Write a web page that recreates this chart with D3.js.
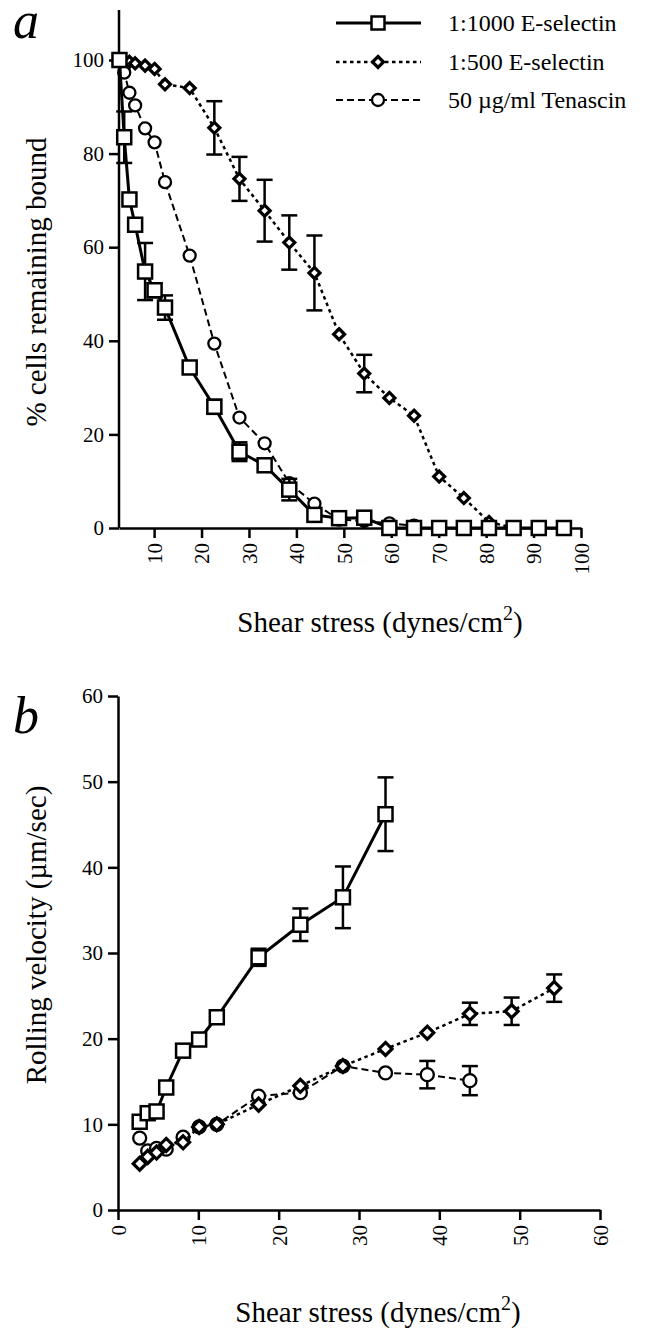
<!DOCTYPE html>
<html lang="en">
<head>
  <meta charset="utf-8">
  <title>Shear stress detachment and rolling velocity</title>
  <script src="https://d3js.org/d3.v7.min.js"></script>
  <style>
  body {
    margin: 0;
    background: #fff;
  }
  text {
    font-family: "Liberation Serif", "Times New Roman", serif;
    fill: #000;
  }
  .axis path, .axis line {
    stroke: #000;
    stroke-width: 2.5px;
  }
  .axis text {
    font-size: 21px;
  }
  .axis-title {
    font-size: 29px;
    text-anchor: middle;
  }
  .panel-letter {
    font-size: 52px;
    font-style: italic;
  }
  .legend text {
    font-size: 24px;
  }
  </style>
</head>
<body>
<script>

// Panel a: % cells remaining bound vs shear stress
var shearA = [2.7, 3.7, 4.8, 6.0, 8.1, 10.1, 12.3, 17.5, 22.7, 28.0, 33.3, 38.5, 43.8, 49.0, 54.3, 59.6, 64.8, 70.1, 75.3, 80.6, 85.8, 91.1, 96.4];
var boundSel1000 = [100, 83.5, 70.2, 64.8, 54.8, 50.8, 47.1, 34.3, 25.9, 16.3, 13.4, 8.2, 2.8, 2.1, 2.2, 0, 0, 0, 0, 0, 0, 0, 0];
var boundSel1000Err = [0, 5.5, 0, 0, 6.1, 1.5, 2.6, 0, 1.5, 2.0, 0, 2.3, 0, 0, 0, 0, 0, 0, 0, 0, 0, 0, 0];
var boundSel500 = [100, 99.8, 99.6, 99.3, 98.8, 98.1, 94.8, 94.0, 85.5, 74.6, 67.8, 61.0, 54.5, 41.4, 33.0, 27.8, 24.0, 11.0, 6.4, 1.3, 0];
var boundSel500Err = [0, 0, 0, 0, 0, 0, 0, 0, 5.7, 4.7, 6.6, 5.8, 8.0, 0, 4.0, 0, 0, 0, 0, 0, 0];
var boundTen = [100, 97.3, 93.0, 90.3, 85.4, 82.4, 73.9, 58.2, 39.4, 23.6, 18.1, 9.6, 5.2, 1.8, 1.5, 1.0, 0.5];

// Panel b: rolling velocity vs shear stress
var shearB = [2.7, 3.7, 4.8, 6.0, 8.1, 10.1, 12.3, 17.5, 22.7, 28.0, 33.3, 38.5, 43.8, 49.0, 54.3];
var velSel1000 = [10.3, 11.3, 11.5, 14.3, 18.6, 19.9, 22.5, 29.5, 33.3, 36.5, 46.2];
var velSel1000Err = [0, 0, 0, 0, 0, 0, 0, 1.0, 1.9, 3.6, 4.3];
var velSel500 = [5.4, 6.2, 6.7, 7.6, 7.9, 9.7, 10.0, 12.3, 14.5, 16.8, 18.8, 20.7, 22.9, 23.2, 25.9];
var velSel500Err = [0, 0, 0, 0, 0, 0, 0, 0, 0, 0, 0, 0, 1.3, 1.6, 1.6];
var velTen = [8.4, 6.9, 7.2, 7.1, 8.5, 9.7, 10.0, 13.3, 13.7, 16.8, 16.0, 15.8, 15.1];
var velTenErr = [0, 0, 0, 0, 0, 0, 0, 0, 0, 0, 0, 1.6, 1.7];

var seriesNames = ["1:1000 E-selectin", "1:500 E-selectin", "50 \u00b5g/ml Tenascin"];
var ticksA = [10, 20, 30, 40, 50, 60, 70, 80, 90, 100];
var ticksAY = [0, 20, 40, 60, 80, 100];
var ticksB = [0, 10, 20, 30, 40, 50, 60];

var width = 657;
var height = 1334;

// line styles per series: square solid, diamond dotted, circle dashed
var styles = [
  {shape: "square", dash: null, lw: 3},
  {shape: "diamond", dash: "3.5,3.5", lw: 2.5},
  {shape: "circle", dash: "7,4", lw: 2}
];

var svg = d3.select("body").append("svg")
  .attr("width", width)
  .attr("height", height);

svg.append("rect").attr("width", width).attr("height", height).attr("fill", "#fff");

function zip(xs, ys, es) {
  return ys.map(function(y, i) { return {x: xs[i], y: y, e: es ? es[i] : 0}; });
}

function drawMarker(g, shape, x, y, size) {
  if (shape == "square") {
    g.append("rect")
      .attr("x", x - size / 2).attr("y", y - size / 2)
      .attr("width", size).attr("height", size)
      .attr("fill", "#fff").attr("stroke", "#000").attr("stroke-width", 2.5);
  } else if (shape == "diamond") {
    var s = size * 0.5;
    g.append("path")
      .attr("d", "M" + x + "," + (y - s) + "L" + (x + s) + "," + y + "L" + x + "," + (y + s) + "L" + (x - s) + "," + y + "Z")
      .attr("fill", "#fff").attr("stroke", "#000").attr("stroke-width", 3.2);
  } else {
    g.append("circle")
      .attr("cx", x).attr("cy", y).attr("r", size / 2 - 0.5)
      .attr("fill", "#fff").attr("stroke", "#000").attr("stroke-width", 2.3);
  }
}

function drawSeries(g, pts, st, x, y, size) {
  var line = d3.line().x(function(d) { return x(d.x); }).y(function(d) { return y(d.y); });
  g.append("path")
    .datum(pts)
    .attr("d", line)
    .attr("fill", "none")
    .attr("stroke", "#000")
    .attr("stroke-width", st.lw)
    .attr("stroke-dasharray", st.dash);

  // error bars
  pts.forEach(function(d) {
    if (!d.e) return;
    var px = x(d.x);
    var cap = 8;
    g.append("line")
      .attr("x1", px).attr("x2", px)
      .attr("y1", y(d.y + d.e)).attr("y2", y(d.y - d.e))
      .attr("stroke", "#000").attr("stroke-width", 2.5);
    [d.y + d.e, d.y - d.e].forEach(function(v) {
      g.append("line")
        .attr("x1", px - cap).attr("x2", px + cap)
        .attr("y1", y(v)).attr("y2", y(v))
        .attr("stroke", "#000").attr("stroke-width", 2.5);
    });
  });

  pts.forEach(function(d) {
    drawMarker(g, st.shape, x(d.x), y(d.y), size);
  });
}

// ---------- Panel a ----------
var xA = d3.scaleLinear().domain([2.6, 100]).range([119, 581]);
var yA = d3.scaleLinear().domain([0, 100]).range([528, 60]);

var axA = svg.append("g").attr("class", "axis")
  .attr("transform", "translate(0," + yA(0) + ")")
  .call(d3.axisBottom(xA).tickValues(ticksA).tickSize(10).tickSizeOuter(0));
axA.selectAll("text")
  .attr("transform", "rotate(-90)")
  .attr("text-anchor", "end")
  .attr("x", -15)
  .attr("y", 0)
  .attr("dy", "0.35em");

var ayA = svg.append("g").attr("class", "axis")
  .attr("transform", "translate(" + xA(2.6) + ",0)")
  .call(d3.axisLeft(yA).tickValues(ticksAY).tickSize(10).tickSizeOuter(0).tickPadding(5));
ayA.select(".domain").remove();
svg.append("line")
  .attr("x1", xA(2.6)).attr("x2", xA(2.6))
  .attr("y1", 10).attr("y2", yA(0))
  .attr("stroke", "#000").attr("stroke-width", 2.5);

var plotA = svg.append("g");
drawSeries(plotA, zip(shearA, boundSel500, boundSel500Err), styles[1], xA, yA, 11);
drawSeries(plotA, zip(shearA, boundTen), styles[2], xA, yA, 13);
drawSeries(plotA, zip(shearA, boundSel1000, boundSel1000Err), styles[0], xA, yA, 14);

svg.append("text").attr("class", "panel-letter").attr("x", 13).attr("y", 38).text("a");

svg.append("text").attr("class", "axis-title")
  .attr("transform", "translate(46," + 282 + ") rotate(-90)")
  .text("% cells remaining bound");

var titleA = svg.append("text").attr("class", "axis-title")
  .attr("x", 380).attr("y", 632)
  .text("Shear stress (dynes/cm");
titleA.append("tspan").attr("dy", -12).attr("font-size", "20px").text("2");
titleA.append("tspan").attr("dy", 12).text(")");

// Legend
var legend = svg.append("g").attr("class", "legend");
var legendY = [23, 62, 100];
seriesNames.forEach(function(name, i) {
  var st = styles[i];
  var ly = legendY[i];
  legend.append("line")
    .attr("x1", 336).attr("x2", 421)
    .attr("y1", ly).attr("y2", ly)
    .attr("stroke", "#000")
    .attr("stroke-width", st.lw)
    .attr("stroke-dasharray", st.dash);
  drawMarker(legend, st.shape, 378, ly, i == 1 ? 11 : 13);
  legend.append("text")
    .attr("x", 448).attr("y", ly + 8)
    .text(name);
});

// ---------- Panel b ----------
var xB = d3.scaleLinear().domain([0, 60]).range([118, 600]);
var yB = d3.scaleLinear().domain([0, 60]).range([1210, 696]);

var axB = svg.append("g").attr("class", "axis")
  .attr("transform", "translate(0," + yB(0) + ")")
  .call(d3.axisBottom(xB).tickValues(ticksB).tickSize(10).tickSizeOuter(0));
axB.selectAll("text")
  .attr("transform", "rotate(-90)")
  .attr("text-anchor", "end")
  .attr("x", -15)
  .attr("y", 0)
  .attr("dy", "0.35em");

svg.append("g").attr("class", "axis")
  .attr("transform", "translate(" + xB(0) + ",0)")
  .call(d3.axisLeft(yB).tickValues(ticksB).tickSize(10).tickSizeOuter(0).tickPadding(5));

var plotB = svg.append("g");
drawSeries(plotB, zip(shearB, velTen, velTenErr), styles[2], xB, yB, 14);
drawSeries(plotB, zip(shearB, velSel500, velSel500Err), styles[1], xB, yB, 13);
drawSeries(plotB, zip(shearB, velSel1000, velSel1000Err), styles[0], xB, yB, 14);

svg.append("text").attr("class", "panel-letter").attr("x", 13).attr("y", 733).text("b");

svg.append("text").attr("class", "axis-title")
  .attr("transform", "translate(46," + 935 + ") rotate(-90)")
  .text("Rolling velocity (\u00b5m/sec)");

var titleB = svg.append("text").attr("class", "axis-title")
  .attr("x", 378).attr("y", 1322)
  .text("Shear stress (dynes/cm");
titleB.append("tspan").attr("dy", -12).attr("font-size", "20px").text("2");
titleB.append("tspan").attr("dy", 12).text(")");

</script>
</body>
</html>
